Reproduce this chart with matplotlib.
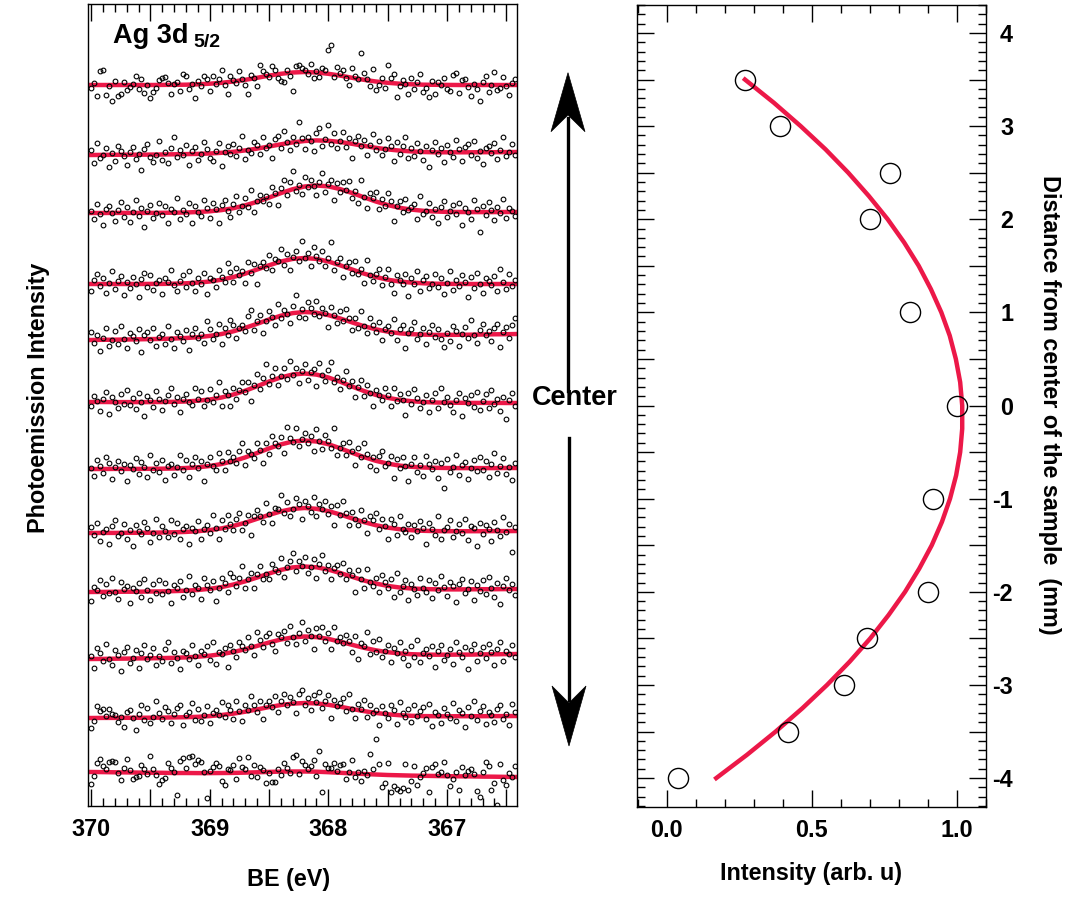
import numpy as np
import matplotlib
matplotlib.use("Agg")
import matplotlib.pyplot as plt
from matplotlib.ticker import MultipleLocator, FuncFormatter
from matplotlib.patches import Polygon
from matplotlib.lines import Line2D

plt.rcParams['font.family'] = ['Liberation Sans', 'DejaVu Sans']
plt.rcParams['font.weight'] = 'bold'
plt.rcParams['axes.labelweight'] = 'bold'
plt.rcParams['axes.unicode_minus'] = False

RED = '#EC1848'
W, H = 1076, 898

# ---- left panel: Ag 3d5/2 spectra (intensity in arbitrary units) ----
fit_be = np.linspace(370.0, 366.4, 37)      # fit curve grid, 0.1 eV
dot_be = np.linspace(370.0, 366.425, 144)   # measured points, 0.025 eV

fit_1 = [721.0, 721.0, 721.0, 721.0, 721.0, 721.0, 721.1, 721.2, 721.3, 721.7, 722.3, 723.2, 724.5,
         726.2, 728.2, 730.4, 732.2, 733.5, 734.0, 733.5, 732.2, 730.4, 728.2, 726.2, 724.5,
         723.2, 722.3, 721.7, 721.3, 721.2, 721.1, 721.0, 721.0, 721.0, 721.0, 721.0, 721.0]
fit_2 = [651.0, 651.1, 651.2, 651.3, 651.3, 651.4, 651.5, 651.7, 651.9, 652.1, 652.5, 653.2, 654.2,
         655.6, 657.4, 659.5, 661.7, 663.6, 665.0, 665.6, 665.2, 664.0, 662.2, 660.1, 658.2,
         656.6, 655.4, 654.6, 654.0, 653.7, 653.7, 653.7, 653.7, 653.8, 653.8, 653.9, 654.0]
fit_3 = [593.0, 593.0, 593.1, 593.1, 593.1, 593.1, 593.2, 593.3, 593.5, 594.0, 594.7, 595.9, 597.8,
         600.7, 604.2, 608.4, 612.9, 616.8, 619.5, 620.5, 619.6, 616.9, 613.0, 608.7, 604.5,
         601.0, 598.2, 596.4, 595.2, 594.5, 594.1, 594.0, 593.9, 593.9, 593.9, 594.0, 594.0]
fit_4 = [522.0, 522.0, 522.0, 522.0, 522.0, 522.1, 522.1, 522.3, 522.7, 523.4, 524.5, 526.3, 529.0,
         532.4, 536.5, 540.7, 544.5, 547.1, 548.0, 547.1, 544.5, 540.7, 536.5, 532.4, 529.0,
         526.3, 524.5, 523.4, 522.7, 522.3, 522.1, 522.1, 522.0, 522.0, 522.0, 522.0, 522.0]
fit_5 = [466.0, 466.2, 466.3, 466.5, 466.7, 466.9, 467.1, 467.5, 468.0, 468.8, 470.1, 472.0, 474.7,
         478.2, 482.2, 486.5, 490.3, 492.9, 494.0, 493.3, 490.9, 487.5, 483.6, 479.8, 476.7,
         474.4, 472.7, 471.8, 471.4, 471.1, 471.1, 471.2, 471.3, 471.5, 471.7, 471.8, 472.0]
fit_6 = [404.0, 404.0, 403.9, 403.9, 403.9, 403.9, 404.0, 404.2, 404.5, 405.3, 406.5, 408.5, 411.5,
         415.3, 419.8, 424.5, 428.6, 431.5, 432.5, 431.4, 428.5, 424.3, 419.5, 415.0, 411.1,
         408.2, 406.1, 404.8, 404.0, 403.5, 403.3, 403.2, 403.1, 403.1, 403.1, 403.0, 403.0]
fit_7 = [337.0, 337.0, 337.1, 337.1, 337.1, 337.2, 337.3, 337.5, 338.0, 338.7, 340.0, 342.0, 344.9,
         348.6, 353.0, 357.6, 361.6, 364.5, 365.5, 364.5, 361.8, 357.7, 353.2, 348.9, 345.2,
         342.4, 340.4, 339.2, 338.5, 338.2, 338.0, 337.9, 337.9, 337.9, 337.9, 338.0, 338.0]
fit_8 = [273.0, 273.1, 273.1, 273.2, 273.2, 273.3, 273.5, 273.7, 274.1, 274.8, 275.9, 277.6, 280.1,
         283.3, 287.2, 291.1, 294.6, 297.1, 298.0, 297.2, 294.9, 291.5, 287.6, 283.9, 280.8,
         278.4, 276.8, 275.8, 275.2, 274.9, 274.8, 274.8, 274.8, 274.8, 274.9, 274.9, 275.0]
fit_9 = [214.0, 214.1, 214.2, 214.3, 214.3, 214.5, 214.6, 214.9, 215.3, 216.0, 217.2, 218.9, 221.5,
         224.7, 228.5, 232.5, 236.1, 238.6, 239.5, 238.7, 236.4, 233.0, 229.2, 225.5, 222.5,
         220.1, 218.5, 217.5, 217.0, 216.7, 216.6, 216.6, 216.7, 216.8, 216.8, 216.9, 217.0]
fit_10 = [147.0, 147.1, 147.3, 147.4, 147.6, 147.7, 147.9, 148.2, 148.6, 149.3, 150.3, 151.9, 154.0,
          156.8, 160.1, 163.5, 166.5, 168.6, 169.5, 168.9, 167.1, 164.3, 161.2, 158.2, 155.7,
          153.8, 152.6, 151.8, 151.4, 151.3, 151.3, 151.4, 151.4, 151.6, 151.7, 151.9, 152.0]
fit_11 = [88.0, 88.1, 88.1, 88.2, 88.2, 88.3, 88.4, 88.6, 88.8, 89.2, 89.9, 91.0, 92.4,
          94.3, 96.6, 98.9, 101.0, 102.4, 103.0, 102.6, 101.2, 99.3, 97.0, 94.9, 93.1,
          91.7, 90.8, 90.2, 89.9, 89.8, 89.7, 89.8, 89.8, 89.8, 89.9, 89.9, 90.0]
fit_12 = [34.0, 33.9, 33.7, 33.6, 33.4, 33.3, 33.2, 33.0, 33.0, 32.9, 32.9, 33.0, 33.1,
          33.4, 33.7, 34.1, 34.4, 34.5, 34.5, 34.3, 33.8, 33.2, 32.6, 32.0, 31.5,
          31.0, 30.7, 30.4, 30.2, 30.0, 29.8, 29.7, 29.6, 29.4, 29.3, 29.1, 29.0]

# scatter of the measured points around each fit
res_1 = [-3, 2, -11, 14, 15, -10, -1, -16, 4, -11, -9, 3,
         -5, -2, 1, 9, -4, 6, -8, 0, -13, -7, -3, 5,
         7, 8, 2, -9, 1, 3, -6, 11, 9, -4, 0, -14,
         3, -2, 8, 5, -7, 7, -1, 4, 13, -3, -12, 6,
         2, -2, 10, 1, -5, -15, 4, 0, -8, 12, 6, 2,
         -1, 9, 5, -4, -7, -9, 3, -3, -18, 6, 7, 4,
         2, -2, 8, -6, 1, -4, 5, 3, 24, 29, -2, 8,
         3, 6, -1, -8, 10, 2, 0, 26, 7, 1, -5, 12,
         -9, -3, 4, -6, 18, 5, 9, -14, -2, 4, 0, -10,
         6, -5, 2, 11, -7, -3, -12, 4, -9, 3, 0, 7,
         -4, -6, 10, 12, -8, 5, 6, -2, -11, 1, -4, -16,
         3, 9, -7, 0, 13, -5, -3, 8, -1, -10, 2, 6]
res_2 = [5, -8, 12, -3, 0, 7, -12, 2, -6, 9, 4, -1,
         -10, 3, 8, -4, 1, -15, 6, 11, -2, -7, 0, 14,
         -5, 2, -9, 6, 17, -3, 4, -1, 9, -11, 3, 7,
         -6, 0, 12, 5, -4, -8, 2, 10, -13, 1, 6, -2,
         8, -5, 3, 15, -9, 0, -3, 7, 4, -6, 11, -1,
         2, -12, 6, 9, -4, 13, 1, -7, 5, -2, 20, 3,
         -8, 4, 0, -10, 7, 12, -5, 2, 16, -3, 8, -6,
         1, 10, -4, 5, -14, 3, 9, -1, 6, -9, 2, 13,
         -2, 7, -6, 0, 11, 4, -11, 8, -3, 5, 14, -7,
         3, -4, 9, 1, -8, 6, -15, 2, 10, -2, 4, -10,
         7, 0, -5, 12, 3, -9, 5, 8, -3, 11, -6, 1,
         -12, 4, 6, -1, 9, -7, 2, 15, -4, 0, 8, -3]
res_3 = [2, -6, 9, -1, -12, 4, 7, 0, -8, 3, 11, -4,
         6, -9, 1, 13, -3, 5, -14, 2, 8, -5, 0, 10,
         -2, 7, -10, 4, 1, 15, -6, 3, -1, 9, -11, 6,
         0, -4, 12, 3, -7, 8, 2, -13, 5, 10, -2, -8,
         4, 11, -5, 0, 7, -3, 14, -9, 1, 6, -1, 3,
         -6, 9, 2, -11, 5, 12, -4, 8, 18, -2, 3, -7,
         10, -1, 6, 0, -9, 4, 13, -6, 2, 7, -12, 5,
         -3, 8, 1, 11, -5, 3, -8, 16, 0, -10, 6, 2,
         9, -7, 4, -2, 12, 5, -15, 1, 7, -4, 10, -1,
         3, 6, -9, 14, -3, 0, 8, -6, 2, -11, 5, 11,
         -5, 1, 7, -2, 9, -13, 4, 0, -7, 12, 3, -20,
         6, -3, 10, 2, -8, 5, -1, 13, -6, 4, 1, -4]
res_4 = [-7, 4, 10, -2, 6, -9, 1, 13, -5, 3, 8, -11,
         2, -4, 7, 0, -13, 5, 11, -3, 9, -6, 1, 4,
         -10, 6, 2, 14, -1, -7, 3, 8, -4, 12, 0, -8,
         5, -2, 9, -12, 4, 1, -6, 10, 3, -3, 15, 6,
         -5, 8, 0, 3, -9, 11, -1, 7, -14, 2, 5, -2,
         10, -6, 4, 1, 13, -4, 6, -10, 2, 8, -3, 17,
         0, 5, -8, 12, 3, -1, 9, -5, 4, 20, -7, 2,
         7, -11, 1, 6, -3, 10, -2, 4, -9, 14, 0, -5,
         3, 9, -7, 2, 11, -4, -12, 6, 1, -2, 8, -14,
         5, -1, 12, -8, 3, 7, -5, 0, 10, -3, 6, -10,
         1, 13, -6, 4, -2, 9, 2, -13, 7, -4, 11, 0,
         -9, 6, 3, -1, 8, -7, 15, 2, -5, 10, -2, 4]
res_5 = [8, -3, 5, -11, 2, 12, -6, 0, 9, -4, 14, 1,
         -8, 6, 3, -2, 10, -13, 4, 7, -1, 11, -7, 2,
         5, -5, 13, 0, -9, 6, 2, -3, 8, -12, 4, 9,
         -1, 3, -6, 15, 7, -4, 1, 10, -10, 5, -2, 12,
         6, -8, 2, 4, -3, 11, 16, -5, 3, 8, -11, 0,
         9, 2, -7, 13, -2, 5, 0, -9, 7, 18, -4, 3,
         -6, 10, 4, -1, 12, -3, 6, 1, -12, 9, 2, -5,
         7, -2, 11, 3, -8, 5, -4, 14, 0, -6, 10, 4,
         -3, 8, -10, 2, 6, -1, 13, -7, 4, 9, -14, 1,
         5, 12, -5, 0, 7, -9, 3, 10, -2, 6, -4, -12,
         2, -6, 9, 4, -11, 1, 8, -3, 15, 0, -8, 5,
         11, -1, 3, -7, 6, 10, -13, 2, 7, -4, 9, 16]
res_6 = [-4, 6, 1, -9, 3, 10, -12, 5, 0, -6, 8, -2,
         12, -3, 4, -7, 9, 0, -14, 6, 2, -5, 11, 3,
         -8, 1, 7, 14, -2, 5, -10, 3, 8, -1, -4, 13,
         2, 9, -6, 0, 11, -3, 4, 16, -8, 6, 1, -11,
         7, -5, 3, 10, -1, 8, -13, 2, 12, -4, 6, 19,
         -2, 4, 11, -7, 1, 9, -3, 14, 0, 6, -9, 3,
         10, -6, 2, 5, -11, 12, 1, -4, 8, 17, -2, 4,
         -7, 3, 13, -1, 6, -9, 2, 10, -5, 7, 0, -12,
         5, 1, -4, 9, 3, -8, 11, -2, 6, 0, -14, 8,
         -3, 12, 4, -6, 0, 7, -10, 2, 9, -5, 15, 1,
         6, -2, -9, 3, 10, -13, 5, 0, 8, -4, 11, -7,
         2, 9, -5, 13, -1, 4, -8, 6, -16, 3, 10, -3]
res_7 = [1, -7, 9, 3, -4, 12, 6, -10, 2, 8, -2, 5,
         -12, 4, 0, 11, -5, 7, 2, -8, 14, -1, 6, -3,
         9, -11, 3, 5, -6, 1, 13, -2, 8, -9, 4, 10,
         -1, 6, -14, 2, 9, 0, -5, 12, 3, -7, 11, 1,
         4, -3, 8, 15, -8, 5, 1, -4, 10, 2, -12, 7,
         -6, 11, 3, -1, 7, -9, 16, 4, 0, 13, -5, 2,
         8, -2, 5, -10, 12, 1, -6, 9, 3, -3, 18, -8,
         0, 6, -4, 10, 2, -11, 7, -1, 14, 4, -7, 3,
         -9, 5, 11, -3, 1, 8, -13, 6, -2, 9, 0, -15,
         3, 10, -5, 2, -8, 12, 4, -1, 7, -10, 5, -20,
         9, -4, 1, 13, -7, 3, 6, -11, 0, 8, -3, 11,
         -2, 7, -9, 4, 15, -5, 2, 10, -6, 1, -12, 5]
res_8 = [6, -2, 10, -8, 1, 4, -11, 7, 13, -3, 0, 9,
         -6, 3, -13, 8, 2, -1, 11, 5, -9, 0, 14, -4,
         7, 1, -5, 12, -2, 9, -7, 3, 6, -12, 4, 0,
         10, -8, 2, 5, -3, 15, 1, -10, 8, -1, 12, 3,
         -4, 6, 11, -6, 0, 7, -14, 4, 9, 2, -5, 13,
         1, -9, 5, 3, 16, -2, 8, -6, 0, 11, 4, -11,
         7, 2, -4, 12, -7, 5, 1, 10, -3, 6, -12, 9,
         -1, 14, 3, -8, 6, 0, -5, 11, 2, -10, 8, 4,
         12, -3, 7, 1, -11, 9, 4, -6, 13, 0, -2, 6,
         -7, 5, -1, 10, 3, -13, 8, 2, -4, 15, -8, 1,
         4, 11, -6, 0, 7, -2, 12, -9, 5, 3, -15, 8,
         -3, 6, 2, -10, 9, 1, -5, 14, -1, 7, -21, 4]
res_9 = [-9, 5, 2, 12, -4, 8, -1, 14, 0, -7, 10, 3,
         6, -11, 4, 1, 9, -5, 13, 2, -8, 7, -2, 11,
         -3, 8, 0, -12, 6, 3, 10, -6, 1, 15, -4, 5,
         2, -9, 11, 4, -1, 7, -13, 0, 9, 3, -6, 12,
         8, -2, 5, 16, -7, 1, 6, -10, 4, 11, -3, 0,
         -5, 9, 3, -1, 12, -8, 2, 7, 14, -4, 6, 1,
         10, -6, 0, 8, -11, 4, 13, -2, 5, -9, 3, 7,
         -1, 11, -4, 6, 2, -14, 9, 1, -7, 12, 0, -3,
         5, -8, 10, 3, -2, 7, -10, 14, -5, 2, 8, -12,
         4, 0, -6, 11, 1, -3, 9, -9, 6, -1, 13, 2,
         -7, 7, 3, -13, 5, 10, -4, 0, 8, -11, 4, -2,
         9, -5, 12, 1, -8, 6, -15, 3, 11, -1, 5, -6]
res_10 = [3, -9, 11, 6, -2, 15, 0, -6, 9, 4, -12, 7,
          12, -4, 1, 8, -10, 5, 13, -1, 3, 10, -7, 2,
          -3, 9, 16, -5, 6, 0, -11, 7, 4, -2, 12, 1,
          -8, 5, 2, 10, -4, 13, -9, 3, 0, 6, -14, 8,
          1, -6, 9, 4, -1, 11, 2, -8, 14, 5, -3, 7,
          10, -2, -10, 6, 3, 8, -5, 12, 0, -7, 4, 15,
          -4, 7, 1, -12, 9, 2, 11, -3, 6, -9, 13, 0,
          5, -1, 8, 3, -7, 10, -13, 4, 2, 16, -5, 9,
          -2, 12, -6, 1, 7, -10, 5, 0, 11, -4, 3, -11,
          8, -3, 14, -8, 2, 6, -1, 9, -12, 4, 10, -5,
          0, 6, -9, 13, 3, -2, 8, -14, 5, 11, -6, 1,
          7, -4, 10, 2, -11, 5, 12, -7, 3, 0, 9, -3]
res_11 = [-10, -3, 12, 7, 9, 2, 9, 4, 3, -4, 1, -9,
          6, 8, 0, -12, 4, 13, -2, 10, -5, 1, 17, 5,
          -1, 11, 7, -6, 3, 9, 12, -8, 2, 5, 14, -3,
          8, -4, 1, 10, -7, 3, 6, 0, 13, -2, 9, 4,
          -5, 12, 2, -9, 7, 1, 15, 5, -3, 8, -11, 3,
          6, 0, 10, -6, 4, 11, -1, 7, 2, -10, 9, 13,
          -2, 5, -7, 8, 1, 12, -4, 3, 10, -13, 6, 0,
          4, 9, -3, 14, 0, -8, 6, 2, 11, -5, 7, -1,
          3, -12, 8, 1, -4, 10, 5, -9, 13, 2, -2, 7,
          -6, 11, 0, 5, 9, -3, 12, -10, 4, 1, -7, 8,
          2, -2, 13, -5, 6, 3, -11, 9, 0, 15, -4, 5,
          10, -8, 4, 1, -6, 7, 11, -3, 2, -9, 12, 4]
res_12 = [-12, -4, 9, 13, 6, 3, 10, 11, 10, -1, -8, 4,
          13, 2, -6, -4, -3, 8, 4, -1, 17, 4, -2, -11,
          -7, -5, 10, 5, 1, -22, 12, 15, 5, 16, 17, 9,
          13, 11, 1, -25, 2, 6, 10, 7, -8, -12, 4, 3,
          8, -6, 15, 6, 4, 16, -4, 7, -5, 5, 2, -11,
          -1, -10, -10, 3, -3, 9, 4, -1, 15, 17, -2, 11,
          7, 3, 6, 12, -4, 21, -20, 8, 4, 4, 10, 2,
          8, 9, -6, 1, 13, -3, 2, -7, 3, -1, 20, 5,
          35, 11, -12, -8, 12, -17, -11, -14, -16, -13, 11, -14,
          -5, 10, -9, -1, 3, 8, -16, 9, 12, 2, 4, 14,
          1, -10, -3, 4, -14, 9, 1, 5, 7, 2, -14, -20,
          5, 15, 11, -13, -6, -28, 13, -3, -8, 4, 0, 11]

fits = [fit_1, fit_2, fit_3, fit_4, fit_5, fit_6, fit_7, fit_8, fit_9, fit_10, fit_11, fit_12]
residuals = [res_1, res_2, res_3, res_4, res_5, res_6, res_7, res_8, res_9, res_10, res_11, res_12]

# ---- right panel: integrated intensity vs position ----
distance = [3.5, 3.0, 2.5, 2.0, 1.0, 0.0, -1.0, -2.0, -2.5, -3.0, -3.5, -4.0]
intensity = [0.27, 0.39, 0.77, 0.70, 0.84, 1.00, 0.92, 0.90, 0.69, 0.61, 0.42, 0.04]

curve_dist = [-4.0, -3.75, -3.5, -3.25, -3.0, -2.75, -2.5, -2.25, -2.0, -1.75, -1.5, -1.25, -1.0,
              -0.75, -0.5, -0.25, 0.0, 0.25, 0.5, 0.75, 1.0, 1.25, 1.5, 1.75, 2.0, 2.25, 2.5,
              2.75, 3.0, 3.25, 3.5]
curve_int = [0.171, 0.277, 0.376, 0.468, 0.553, 0.631, 0.702, 0.765, 0.822, 0.871, 0.914, 0.949, 0.977,
             0.998, 1.012, 1.019, 1.019, 1.012, 0.997, 0.976, 0.947, 0.911, 0.869, 0.819, 0.762, 0.697, 0.626,
             0.548, 0.462, 0.370, 0.270]


def px(x, y):
    return (x / W, 1 - y / H)


fig = plt.figure(figsize=(W / 100, H / 100), dpi=100)
ax1 = fig.add_axes([87.5 / W, 1 - 806 / H, (517 - 87.5) / W, (806 - 4) / H])
ax2 = fig.add_axes([637 / W, 1 - 807 / H, (986 - 637) / W, (807 - 5) / H])

for fit, res in zip(fits, residuals):
    base = np.interp(dot_be[::-1], fit_be[::-1], np.array(fit)[::-1])[::-1]
    ax1.plot(fit_be, fit, color=RED, lw=3.2, zorder=2)
    ax1.plot(dot_be, base + np.array(res), 'o', ms=3.4, mfc='none', mec='black', mew=0.8, zorder=3)

ax1.set_xlim(370.03, 366.41)
ax1.set_ylim(0, 802)
ax1.set_yticks([])
ax1.xaxis.set_major_locator(MultipleLocator(0.5))
ax1.xaxis.set_minor_locator(MultipleLocator(0.1))
ax1.xaxis.set_major_formatter(FuncFormatter(lambda v, p: f"{v:.0f}" if abs(v - round(v)) < 1e-6 else ""))
ax1.tick_params(axis='x', which='both', direction='in', top=True, bottom=True,
                labelsize=16.8, pad=8.5, width=1)
ax1.tick_params(axis='x', which='major', length=12)
ax1.tick_params(axis='x', which='minor', length=6)
ax1.set_xlabel('BE (eV)', fontsize=16.8)
ax1.xaxis.set_label_coords(0.467, -0.077)
ax1.set_ylabel('Photoemission Intensity', fontsize=16.8)
ax1.yaxis.set_label_coords(-0.0873, 0.509)

ax1.text(0.0594, 0.951, 'Ag 3d', transform=ax1.transAxes, fontsize=19.5, va='baseline', ha='left')
ax1.text(0.2456, 0.946, '5/2', transform=ax1.transAxes, fontsize=14, va='baseline', ha='left')

ax2.plot(curve_int, curve_dist, color=RED, lw=3.2, zorder=2)
ax2.plot(intensity, distance, 'o', ms=14.5, mfc='none', mec='black', mew=1.0, zorder=3)
ax2.set_xlim(-0.102, 1.101)
ax2.set_ylim(-4.31, 4.30)
ax2.xaxis.set_major_locator(MultipleLocator(0.5))
ax2.xaxis.set_minor_locator(MultipleLocator(0.1))
ax2.xaxis.set_major_formatter(FuncFormatter(lambda v, p: f"{v:.1f}"))
ax2.yaxis.set_major_locator(MultipleLocator(0.5))
ax2.yaxis.set_minor_locator(MultipleLocator(0.1))
ax2.yaxis.set_major_formatter(FuncFormatter(lambda v, p: f"{v:.0f}" if abs(v - round(v)) < 1e-6 else ""))
ax2.tick_params(axis='both', which='both', direction='in', top=True, bottom=True,
                left=True, right=True, labelleft=False, labelright=True, labelsize=16.8, width=1)
ax2.tick_params(axis='both', which='major', length=12)
ax2.tick_params(axis='both', which='minor', length=6)
ax2.tick_params(axis='x', pad=8.5)
ax2.tick_params(axis='y', pad=19.5)
plt.setp(ax2.get_yticklabels(), ha='right')
ax2.set_xlabel('Intensity (arb. u)', fontsize=16.8)
ax2.xaxis.set_label_coords(0.5, -0.068)
ax2.yaxis.set_label_position('right')
ax2.set_ylabel('Distance from center of the sample  (mm)', fontsize=16.8, rotation=-90, va='bottom')
ax2.yaxis.set_label_coords(1.149, 0.501)

for ax in (ax1, ax2):
    for sp in ax.spines.values():
        sp.set_linewidth(1.0)

# double arrow marking the sample center
up_head = [px(568, 72.7), px(585, 131.7), px(568, 115), px(551, 131.7)]
down_head = [px(569, 746), px(586, 686), px(569, 703), px(552, 686)]
for head in (up_head, down_head):
    fig.patches.append(Polygon(head, closed=True, transform=fig.transFigure,
                               facecolor='black', edgecolor='black', lw=0.5))
fig.lines.append(Line2D(*zip(px(568, 118), px(568, 391)), transform=fig.transFigure, color='black', lw=2.4))
fig.lines.append(Line2D(*zip(px(569, 700), px(569, 438)), transform=fig.transFigure, color='black', lw=2.4))
fig.text(*px(574.5, 405), 'Center', fontsize=19.5, ha='center', va='baseline')

fig.savefig('out.png', dpi=100)
